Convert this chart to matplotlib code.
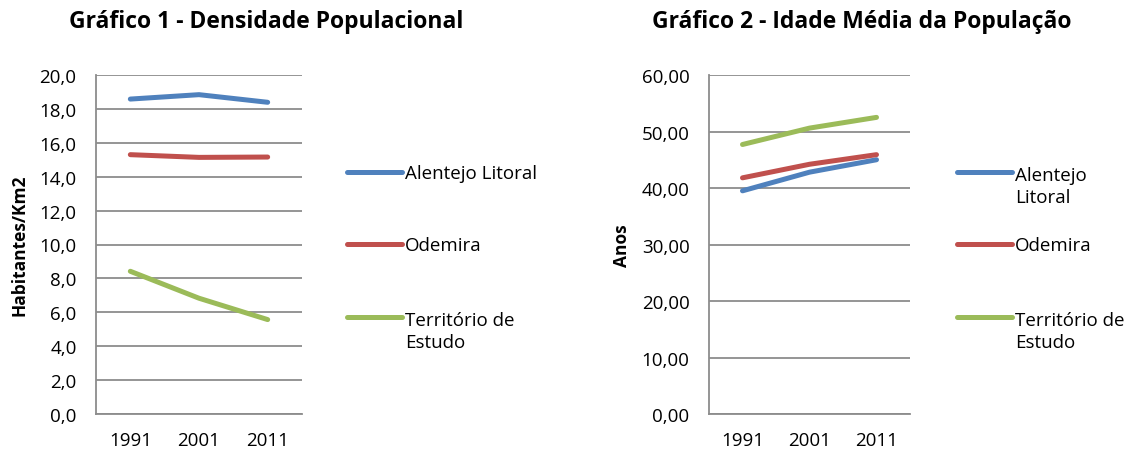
import matplotlib
matplotlib.use("Agg")
import matplotlib.pyplot as plt
from matplotlib.lines import Line2D

plt.rcParams['font.family'] = ['Open Sans', 'DejaVu Sans']

# data
anos = ['1991', '2001', '2011']
series_names = ['Alentejo Litoral', 'Odemira', 'Território de\nEstudo']
series_names_2 = ['Alentejo\nLitoral', 'Odemira', 'Território de\nEstudo']

densidade_alentejo = [18.58, 18.84, 18.39]
densidade_odemira = [15.30, 15.14, 15.16]
densidade_territorio = [8.42, 6.83, 5.57]

idade_alentejo = [39.5, 42.8, 45.0]
idade_odemira = [41.8, 44.2, 45.9]
idade_territorio = [47.7, 50.6, 52.5]

cores = ['#4F81BD', '#C0504D', '#9BBB59']
grid_col = '#8C8C8C'

W, H = 1130, 452
fig = plt.figure(figsize=(W / 100, H / 100), dpi=100)


def px_axes(x0, y0, x1, y1):
    # pixel box (top-left origin) -> figure axes
    return fig.add_axes([x0 / W, 1 - y1 / H, (x1 - x0) / W, (y1 - y0) / H])


def style(ax, ymax, step, fmt):
    ax.set_xlim(-0.5, 2.5)
    ax.set_ylim(0, ymax)
    ticks = [i * step for i in range(int(round(ymax / step)) + 1)]
    ax.set_yticks(ticks)
    ax.set_yticklabels([fmt.format(t).replace('.', ',') for t in ticks])
    ax.set_xticks(range(len(anos)))
    ax.set_xticklabels(anos)
    ax.yaxis.grid(True, color=grid_col, linewidth=1.3)
    ax.set_axisbelow(True)
    for s in ['top', 'right']:
        ax.spines[s].set_visible(False)
    for s in ['left', 'bottom']:
        ax.spines[s].set_color(grid_col)
        ax.spines[s].set_linewidth(1.3)
    ax.tick_params(length=0, labelsize=13.5, colors='black')
    ax.tick_params(axis='y', pad=14)
    ax.tick_params(axis='x', pad=12)


def legenda(x0, ys, names):
    # handle sits on the first text line, like the original
    for y, name, c in zip(ys, names, cores):
        fig.add_artist(Line2D([x0 / W, (x0 + 55) / W], [1 - y / H, 1 - y / H],
                              color=c, linewidth=3.6, solid_capstyle='round',
                              transform=fig.transFigure))
        n_extra = name.count('\n')
        fig.text((x0 + 58) / W, 1 - (y + 6 + 24 * n_extra) / H, name, fontsize=13.5,
                 ha='left', va='baseline', linespacing=1.3)


ax1 = px_axes(96, 76, 302, 415)
for vals, c in zip([densidade_alentejo, densidade_odemira, densidade_territorio], cores):
    ax1.plot(range(len(anos)), vals, color=c, linewidth=3.6, solid_capstyle='round')
style(ax1, 20, 2, '{:.1f}')
ax1.set_ylabel('Habitantes/Km2', fontsize=12.5, fontweight='bold', labelpad=8)
fig.text(266 / W, 1 - 22 / H, 'Gráfico 1 - Densidade Populacional',
         fontsize=16.5, fontweight='bold', ha='center', va='center')
legenda(347, [173, 245, 318], series_names)

ax2 = px_axes(709, 76, 910, 415)
for vals, c in zip([idade_alentejo, idade_odemira, idade_territorio], cores):
    ax2.plot(range(len(anos)), vals, color=c, linewidth=3.6, solid_capstyle='round')
style(ax2, 60, 10, '{:.2f}')
ax2.set_ylabel('Anos', fontsize=12.5, fontweight='bold', labelpad=8)
fig.text(862 / W, 1 - 22 / H, 'Gráfico 2 - Idade Média da População',
         fontsize=16.5, fontweight='bold', ha='center', va='center')
legenda(957, [173, 245, 318], series_names_2)

fig.savefig('out.png', dpi=100)
